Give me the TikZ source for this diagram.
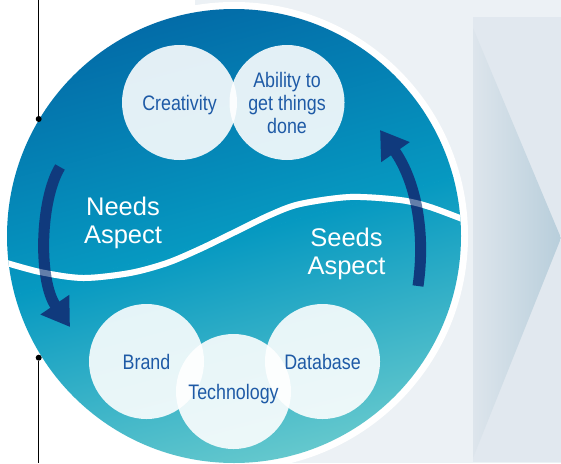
\documentclass[tikz,border=0pt]{standalone}
\usepackage{fontspec}
\setmainfont{Liberation Sans}
\newfontfamily\condfont[FakeStretch=0.85]{Liberation Sans}
\usepackage{tikz}
\usetikzlibrary{arrows.meta}

\definecolor{discTop}{RGB}{3,108,168}
\definecolor{discMid}{RGB}{6,153,193}
\definecolor{discBot}{RGB}{100,200,205}
\definecolor{arrowNavy}{RGB}{16,58,125}
\definecolor{bubbleText}{RGB}{30,90,166}
\definecolor{paleBg}{RGB}{236,241,245}
\definecolor{panelBg}{RGB}{225,232,239}
\definecolor{chevL}{RGB}{221,229,236}
\definecolor{chevR}{RGB}{184,206,219}

\begin{document}
\begin{tikzpicture}[x=1pt, y=-1pt,
  bubble/.style={circle, fill=white, fill opacity=.89, text opacity=1, minimum size=115pt, inner sep=0pt,
    text=bubbleText, align=center, text depth=0pt, font=\condfont\fontsize{21}{23}\selectfont},
  aspect/.style={text=white, align=center, inner sep=0pt, font=\fontsize{25.5}{28}\selectfont},
  cycle/.style={line width=11pt, draw=arrowNavy, -{Triangle[length=27pt, width=33pt]}},
  wave/.style={draw=white, line width=6pt},
  dot/.style={circle, fill=black, inner sep=0pt, minimum size=6pt}]
  \useasboundingbox (0,0) rectangle (561,463);
  \fill[white] (0,0) rectangle (561,463);
  \fill[paleBg] (195,0) rectangle (561,463);
  \fill[panelBg] (473,17) rectangle (561,462);
  \shade[left color=chevL, right color=chevR] (473,28) -- (561,238) -- (473,458) -- cycle;
  \fill[white] (234,236) circle[radius=234pt];
  \begin{scope}
    \clip (234,236) circle[radius=227pt];
    \begin{scope}[transform canvas={rotate around={15:(234,236)}}]
      \shade[top color=discTop, bottom color=discMid] (-30,9) rectangle (500,236.5);
      \shade[top color=discMid, bottom color=discBot] (-30,236) rectangle (500,463);
    \end{scope}
    \draw[wave] plot[smooth] coordinates {(0,261) (40,272) (83,278) (130,273) (167,263) (200,249) (233,233) (270,215) (300,204) (350,197) (400,200) (430,207) (470,222)};
    \coordinate (needsStart) at (60,167);
    \coordinate (needsEnd) at (70,327);
    \coordinate (seedsStart) at (418,286);
    \coordinate (seedsEnd) at (380,130);
    \draw[cycle] (needsStart) .. controls (40,200) and (38,280) .. (needsEnd);
    \draw[cycle] (seedsStart) .. controls (426,230) and (415,180) .. (seedsEnd);
    \draw[wave, draw opacity=.35] plot[smooth] coordinates {(0,261) (40,272) (83,278) (130,273) (167,263) (200,249) (233,233) (270,215) (300,204) (350,197) (400,200) (430,207) (470,222)};
  \end{scope}
  \node[bubble] (creat) at (179.5,102.5) {Creativity};
  \node[bubble] (abil) at (287,102.5) {Ability to\\get things\\done};
  \node[bubble] (brand) at (146.5,361.5) {Brand};
  \node[bubble] (db) at (322.5,361.5) {Database};
  \node[bubble] (tech) at (233.5,391.5) {Technology};
  \node[aspect] (needs) at (123,222.5) {Needs\\Aspect};
  \node[aspect] (seeds) at (346.5,254) {Seeds\\Aspect};
  \node[dot] (d1) at (38.7,119) {};
  \node[dot] (d2) at (38.7,357.7) {};
  \coordinate (t1) at (38.7,0);
  \coordinate (b1) at (38.7,463);
  \draw[line width=.8pt] (t1) -- (d1);
  \draw[line width=.8pt] (d2) -- (b1);
\end{tikzpicture}
\end{document}
